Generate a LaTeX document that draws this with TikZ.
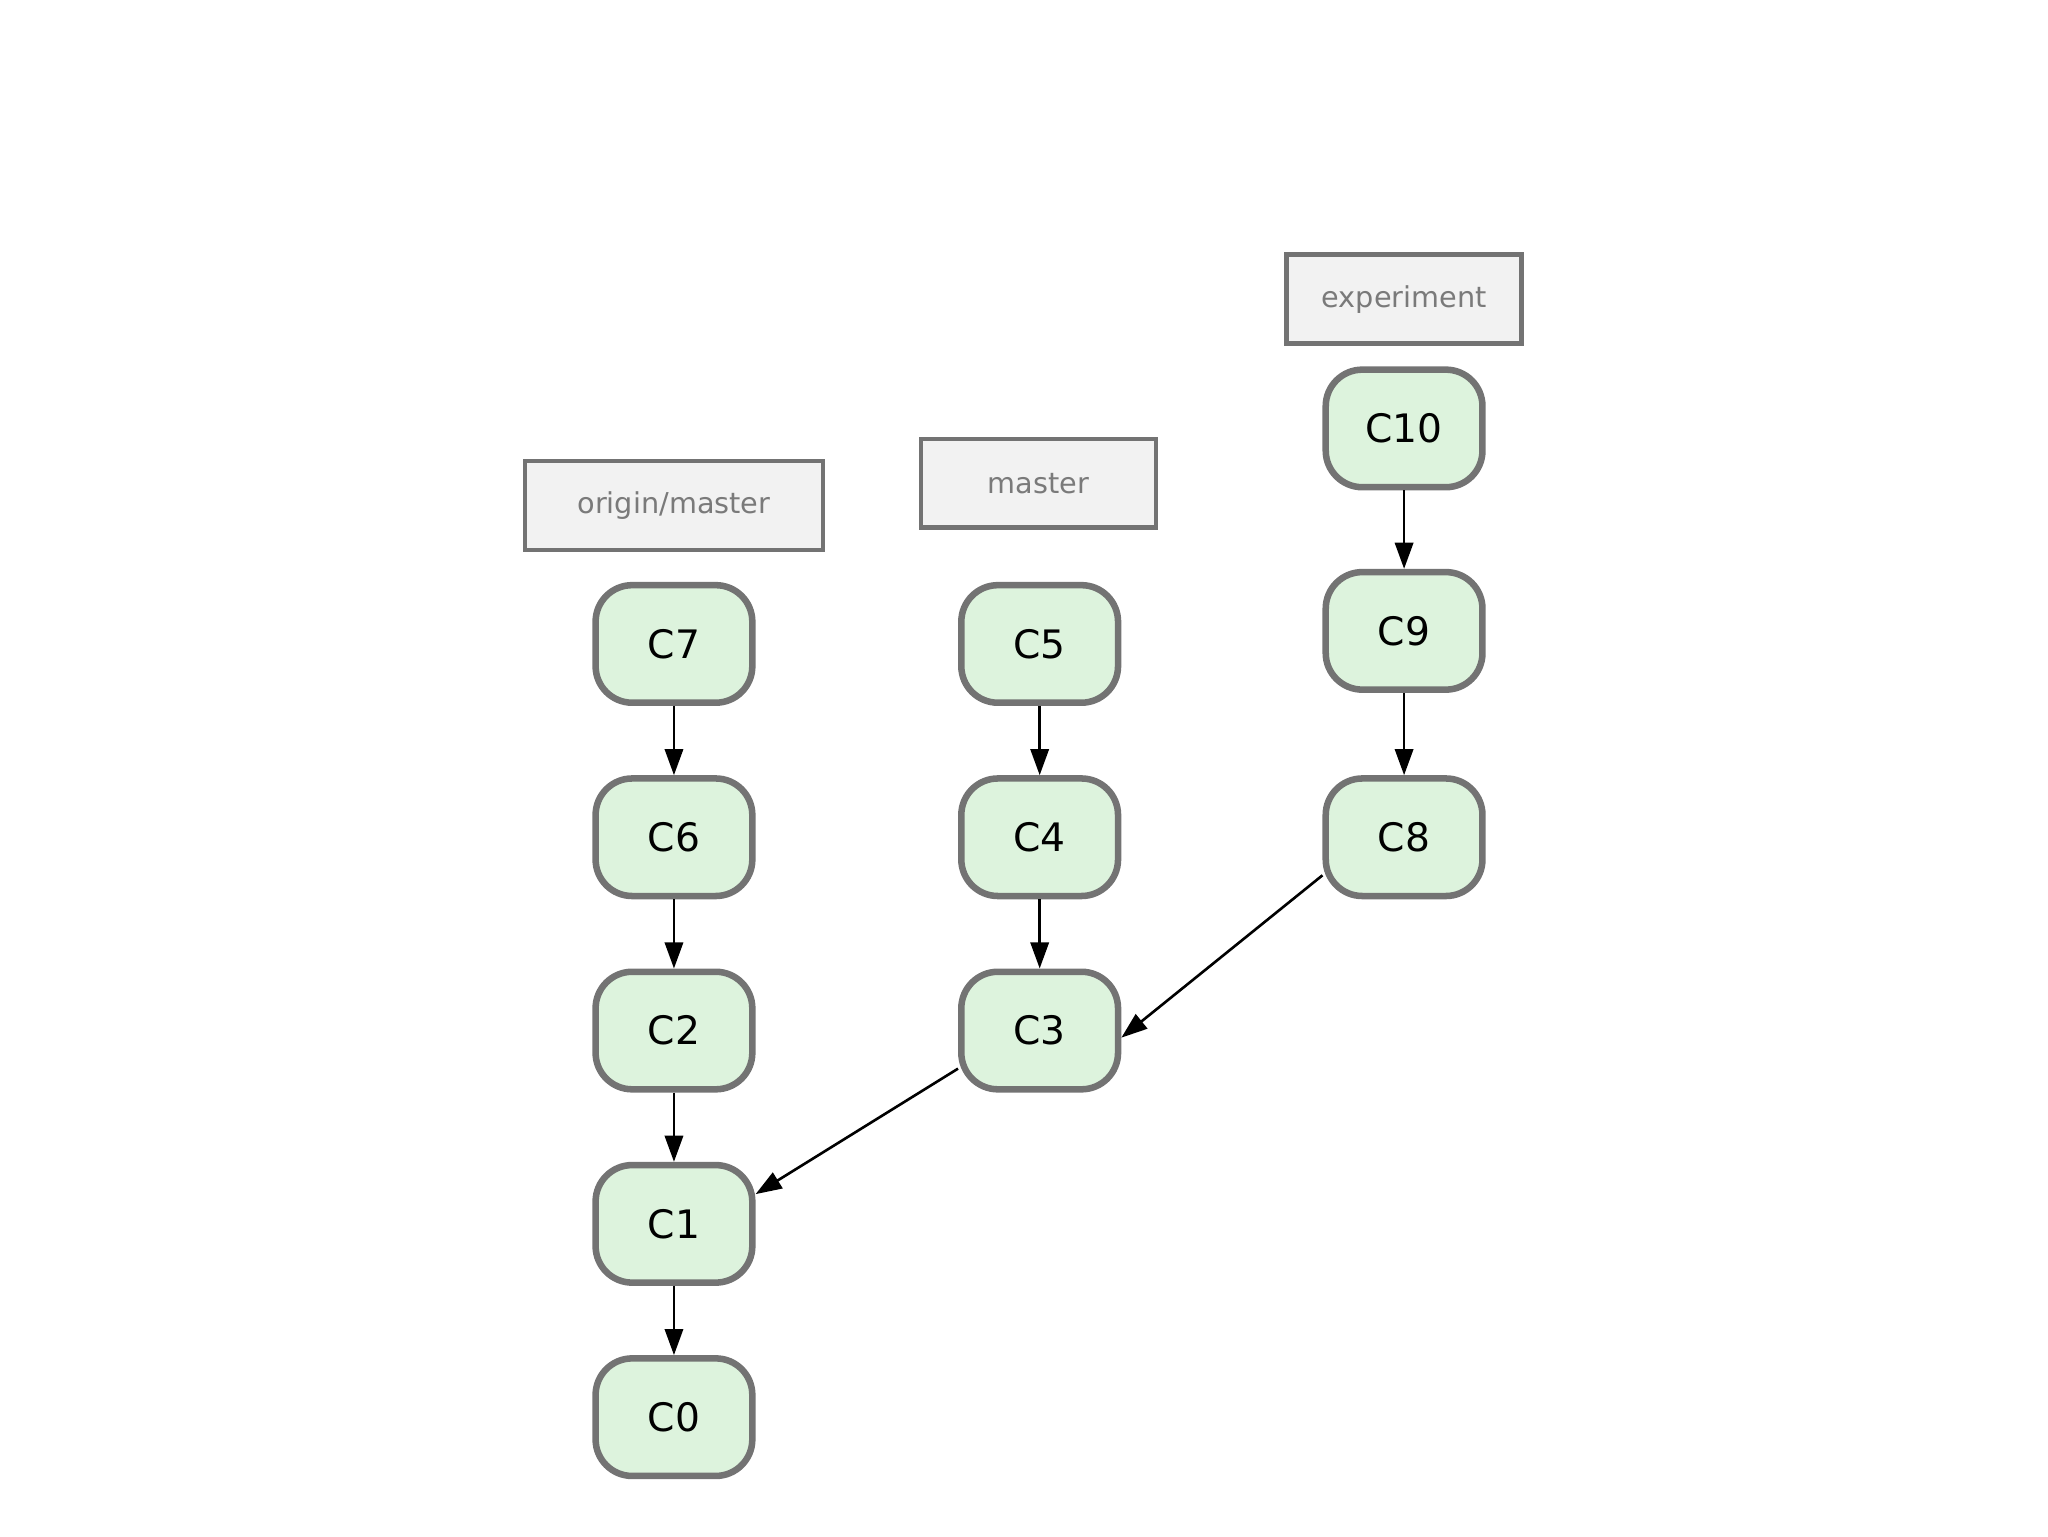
\documentclass[tikz,border=0pt]{standalone}
\usepackage{fontspec}
\setmainfont{DejaVu Sans}
\usetikzlibrary{arrows.meta}
\definecolor{cfill}{HTML}{DDF3DD}
\definecolor{cdraw}{HTML}{737373}
\definecolor{lfill}{HTML}{F2F2F2}
\definecolor{ltext}{HTML}{7A7A7A}
\tikzset{
 commit/.style={draw=cdraw,line width=5pt,fill=cfill,rounded corners=28pt,minimum width=120pt,minimum height=90pt,inner sep=0pt,font=\fontsize{30}{34}\selectfont},
 lbl/.style={draw=cdraw,line width=3.5pt,fill=lfill,minimum height=68pt,inner sep=0pt,text=ltext,font=\fontsize{22}{26}\selectfont},
 arr/.style={-{Triangle[length=20pt,width=14pt]},line width=2pt,black}
}
\begin{document}
\begin{tikzpicture}[x=1pt,y=-1pt]
\useasboundingbox (0,0) rectangle (1568,1176);
\node[commit] (c7) at (516,493) {C7};
\node[commit] (c6) at (516,641) {C6};
\node[commit] (c2) at (516,789) {C2};
\node[commit] (c1) at (516,937) {C1};
\node[commit] (c0) at (516,1085) {C0};
\node[commit] (c5) at (796,493) {C5};
\node[commit] (c4) at (796,641) {C4};
\node[commit] (c3) at (796,789) {C3};
\node[commit] (c10) at (1075,328) {C10};
\node[commit] (c9) at (1075,483) {C9};
\node[commit] (c8) at (1075,641) {C8};
\node[lbl,minimum width=228pt] (om) at (516,387) {origin/master};
\node[lbl,minimum width=180pt] (m) at (795,370) {master};
\node[lbl,minimum width=180pt] (e) at (1075,229) {experiment};
\draw[arr] (c7) -- (c6);
\draw[arr] (c6) -- (c2);
\draw[arr] (c2) -- (c1);
\draw[arr] (c1) -- (c0);
\draw[arr] (c5) -- (c4);
\draw[arr] (c4) -- (c3);
\draw[arr] (c10) -- (c9);
\draw[arr] (c9) -- (c8);
\draw[arr] (c8.205) -- (c3.-5);
\draw[arr] (c3.205) -- (c1.20);
\end{tikzpicture}
\end{document}
